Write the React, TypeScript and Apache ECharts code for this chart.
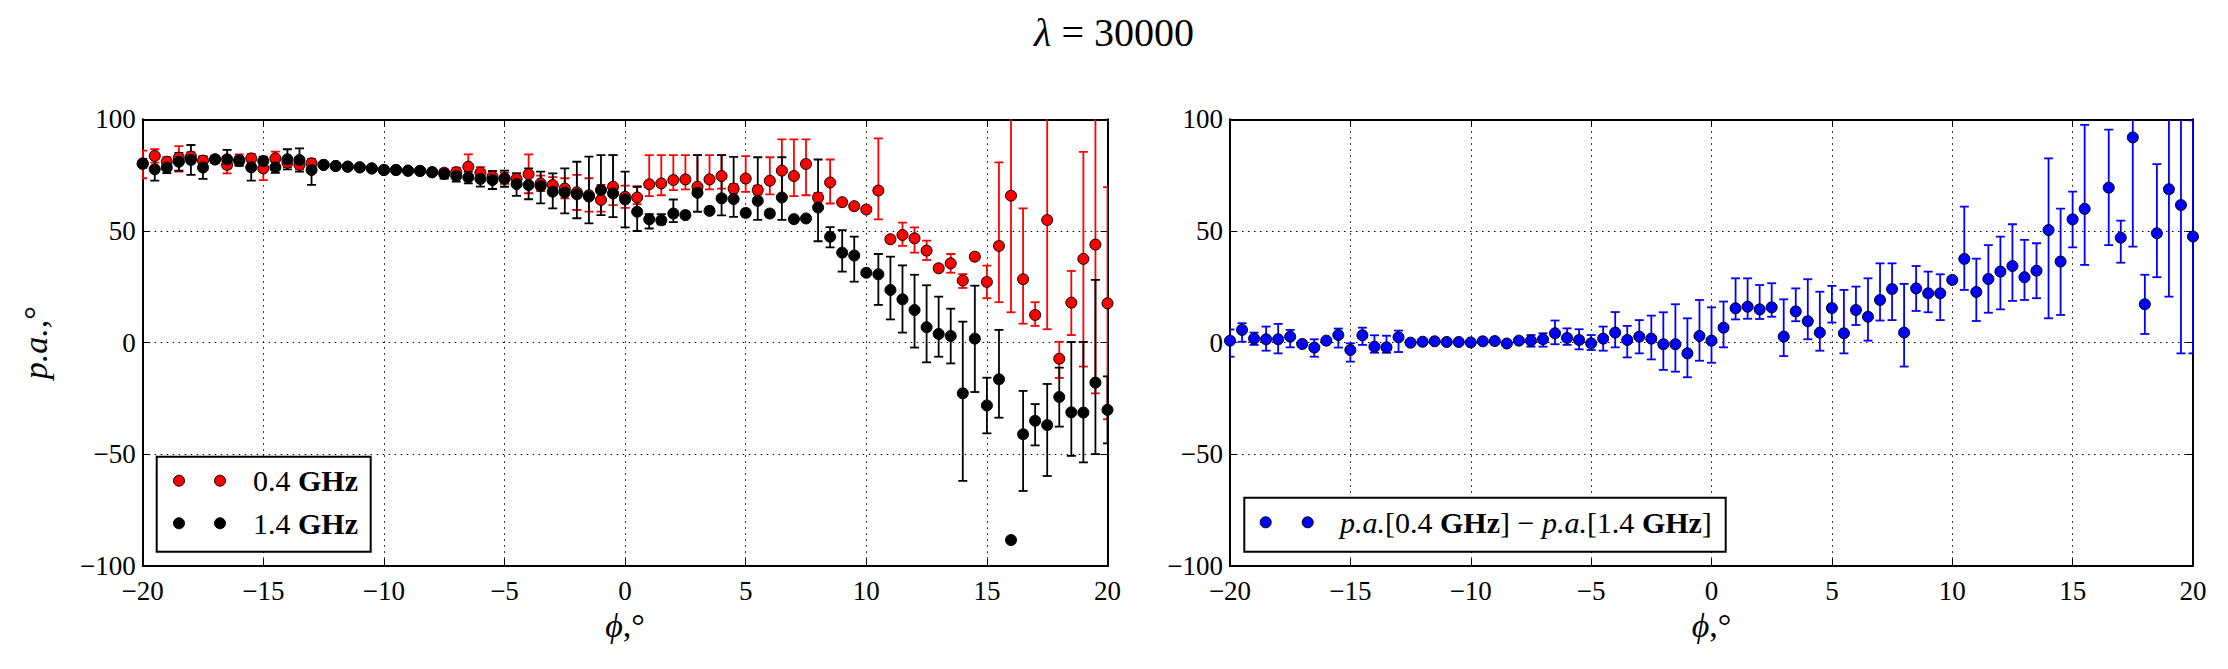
import React, { useEffect, useRef } from "react";
import * as echarts from "echarts";

// Longitude grid (degrees)
const phi = [
  -20, -19.5, -19, -18.5, -18, -17.5, -17, -16.5, -16, -15.5, -15, -14.5, -14, -13.5, -13, -12.5,
  -12, -11.5, -11, -10.5, -10, -9.5, -9, -8.5, -8, -7.5, -7, -6.5, -6, -5.5, -5, -4.5, -4, -3.5,
  -3, -2.5, -2, -1.5, -1, -0.5, 0, 0.5, 1, 1.5, 2, 2.5, 3, 3.5, 4, 4.5, 5, 5.5, 6, 6.5, 7, 7.5,
  8, 8.5, 9, 9.5, 10, 10.5, 11, 11.5, 12, 12.5, 13, 13.5, 14, 14.5, 15, 15.5, 16, 16.5, 17, 17.5,
  18, 18.5, 19, 19.5, 20,
];

// Position angle at 0.4 GHz
const pa04 = [
  80, 83.6, 81, 82.8, 83.3, 81.5, 82, 79.6, 81.8, 82.5, 78, 82.5, 80.6, 79.6, 80.3, 79.6,
  79.1, 78.8, 78.5, 78, 77.3, 77.3, 77, 76.9, 76.3, 76.1, 76.3, 78.8, 76.1, 74.3, 73.6, 73.3, 75.4, 71.3,
  70.6, 69, 67.3, 66, 63.9, 69.8, 65.3, 65, 70.9, 71.3, 72.8, 73.1, 69.8, 73.1, 74.6, 69, 73.5, 68.3, 72.5, 77, 74.6, 80,
  65, 71.7, 62.9, 61.1, 59.6, 68.1, 46.3, 48.2, 46.7, 41.2, 33.3, 35.5, 27.8, 38.5, 27.2, 43.3, 65.8, 28.4, 12.4, 54.9,
  -7.2, 17.9, 37.5, 43.9, 17.6,
];
const pa04ErrUp = [
  6, 3, 2, 5.2, 2, 2, 1.5, 3.7, 2.5, 2, 3.8, 3, 2, 2, 2, 1,
  1, 1, 1, 1, 1, 1, 1, 1, 1, 1.5, 2, 5.5, 2.5, 2.5, 2.5, 2.5, 8.9, 3.5,
  3.5, 4.6, 7.8, 7.6, 6.7, 14.2, 5, 5, 13.1, 12.7, 11.2, 10.9, 14.2, 10.9, 9.4, 2, 10, 2, 10.5, 14, 16.4, 11,
  2, 10.3, 1, 1, 1, 23.4, 1.5, 5.5, 4.9, 4.5, 1.5, 4.2, 2.9, 1.5, 7.3, 37.4, 52, 31.7, 5.7, 49,
  7.6, 14.2, 47.9, 66, 52,
];
const pa04ErrDown = [
  6.4, 3, 2, 6.2, 2, 2, 1.5, 3.8, 2.5, 2, 5.2, 2.9, 2, 2, 2, 1,
  1, 1, 1, 1, 1, 1, 1, 1, 1, 1.5, 2, 5.2, 2.5, 2.5, 2.5, 2.5, 8.5, 3.5,
  3.5, 4.4, 7.9, 7.3, 5.2, 8.2, 5, 3, 5.3, 5.3, 4.5, 4.5, 3.8, 4.5, 5.6, 2, 6, 2, 6.1, 12, 9, 14,
  2, 9.4, 1, 1, 1, 12.9, 1.5, 4.9, 6.4, 4.2, 1.5, 4.2, 3.3, 1.5, 7.3, 25.2, 52.2, 19.9, 4.9, 48.9,
  8.6, 14.5, 48.2, 66.6, 51.9,
];

// Position angle at 1.4 GHz
const pa14 = [
  80.3, 77.6, 78.4, 81, 81.8, 78.4, 82.1, 82.1, 81.3, 78.5, 81.3, 78.5, 82.1, 81.8, 77.3, 79.6,
  79.1, 78.8, 78.5, 78, 77.3, 77.3, 77, 76.9, 76.3, 75.5, 74.6, 74, 73.3, 72.8, 73.4, 71, 70.6, 70.1,
  67.6, 67.2, 66.4, 65.4, 68.3, 66.8, 64.1, 58.6, 55.2, 54.8, 57.8, 57.1, 67.1, 59, 64.6, 64.3, 58.1, 63.5, 57.8, 65, 55.3, 55.6,
  60.5, 47.4, 40.3, 39, 31.3, 30.6, 23.6, 19.4, 14.6, 6.9, 3.9, 3, -22.7, 1.8, -28.1, -16.4, -88.4, -41, -35, -36.9,
  -24.3, -31.2, -31.3, -17.9, -30.1,
];
const pa14ErrUp = [
  2, 4.9, 2.5, 4, 6.7, 4.9, 1.5, 4.2, 2, 4, 2, 2.5, 4.5, 5.2, 4.5, 1,
  1, 1, 1, 1, 1, 1, 1, 1, 1, 2, 2.5, 2.6, 3.4, 4, 3.6, 4.8, 7.4, 6.5,
  8.2, 10.8, 14.6, 17.9, 15.7, 17.2, 12.5, 11.2, 2.3, 2.7, 6.3, 1.5, 16.9, 1.5, 19.4, 18.9, 1.5, 19.5, 1.5, 18, 1, 1,
  21.5, 4.3, 10.1, 8.5, 1, 9.1, 14.9, 15.2, 15.8, 18.8, 16.7, 12.2, 32.1, 23.7, 12.4, 22.1, 0, 19.4, 7.5, 18.4,
  13.1, 31.5, 31.6, 46, 15,
];
const pa14ErrDown = [
  2, 5.1, 2.5, 4, 6.7, 5.1, 1.5, 4.1, 2, 6, 2, 2.5, 4.5, 5.2, 6.7, 1,
  1, 1, 1, 1, 1, 1, 1, 1, 1, 2, 2.5, 2.7, 3.4, 4, 3.6, 5.3, 6.4, 7.7,
  7.5, 9.3, 10.7, 12, 11.2, 10.6, 12.5, 8.6, 4.1, 1.8, 3.8, 1.5, 8.5, 1.5, 7.6, 8, 1.5, 8.5, 1.5, 10, 1, 1,
  15.1, 4.7, 8.5, 11.7, 1, 13.7, 13.2, 14.9, 16.8, 15.7, 10.2, 12.3, 39.2, 23.9, 12.5, 17.2, 0, 25.4, 11, 22.8,
  13.3, 19.5, 22.3, 32, 15,
];

// Difference p.a.[0.4 GHz] - p.a.[1.4 GHz] (null: off scale)
const dpa = [
  0.9, 5.7, 1.8, 1.5, 1.5, 2.7, -0.6, -2.2, 0.9, 3.4, -3.3, 3.3, -1.8, -2.1, 2.4, 0,
  0.4, 0.6, 0.3, 0.3, 0.1, 0.6, 0.7, -0.4, 0.9, 0.9, 1.5, 4.2, 2.1, 1.2, -0.3, 1.8, 4.5, 1.2,
  2.7, 1.8, -0.7, -0.7, -4.8, 3, 0.9, 6.7, 15.4, 16.1, 14.9, 15.8, 2.7, 14, 9.6, 4.5, 15.5, 4.2, 14.6, 11.6, 19.1, 24,
  4.5, 24.3, 22.1, 22.1, 28.1, 37.5, 22.7, 28.5, 31.8, 34.3, 29.3, 32.2, 50.4, 36.3, 55.2, 59.9, null, 69.4, 47, 91.9,
  17.2, 49, 68.7, 61.6, 47.5,
];
const dpaErrUp = [
  5, 3, 2.7, 5.7, 6.9, 3, 1, 3.7, 1, 2.9, 3, 3.4, 5.1, 5.2, 3, 0.5,
  0.5, 0.5, 0.5, 0.5, 0.5, 0.5, 0.5, 0.5, 0.5, 2.5, 2.7, 5.7, 4.3, 4.8, 3.7, 5.4, 9.2, 6.3,
  7.4, 10.3, 14.3, 17.9, 15.7, 16.1, 14.9, 11.7, 13.4, 12.7, 10.9, 10.8, 16.7, 10.3, 18.8, 18.3, 9.9, 19.4, 10.5, 17.2, 16.4, 11.5,
  21.8, 10, 9.7, 8.5, 1, 23.4, 14.9, 15.2, 15.7, 18.7, 16.7, 12.3, 32.1, 23.7, 12.4, 37.6, 0, 26, 7.6, 49,
  13.2, 30.9, 48, 66, 52,
];
const dpaErrDown = [
  7.2, 5.3, 2.8, 5.1, 6.3, 4.8, 1, 4.1, 1, 5.6, 5.2, 4.3, 2.7, 2.4, 6.6, 0.5,
  0.5, 0.5, 0.5, 0.5, 0.5, 0.5, 0.5, 0.5, 0.5, 2.7, 3.3, 4.9, 3.1, 4.2, 3, 5.4, 6.6, 7.8,
  7.5, 9.3, 11.5, 12.3, 10.7, 11.1, 9.9, 8.8, 5, 5.4, 4.3, 4.2, 8.7, 4.4, 8.1, 8.1, 6.5, 9, 6.7, 10.7, 9.2, 13.9,
  15.2, 10.1, 8.5, 12, 1, 13.9, 13, 15.1, 16.9, 15.6, 10.2, 12.3, 39.5, 23.9, 12.5, 25.1, 0, 25.7, 11.2, 48.9,
  13.3, 19.7, 48.1, 66.4, 52.3,
];

const xTicks = { min: -20, max: 20, interval: 5 };
const yTicks = { min: -100, max: 100, interval: 50 };

const FONT = "'Liberation Serif', 'DejaVu Serif', serif";
const RED = "#ff0000";
const BLACK = "#000000";
const BLUE = "#0000ff";

const minus = (v: number) => String(v).replace("-", "\u2212");

function points(vals: (number | null)[]) {
  const out: number[][] = [];
  phi.forEach((x, i) => {
    const v = vals[i];
    if (v != null) out.push([x, v]);
  });
  return out;
}

function bars(vals: (number | null)[], up: number[], down: number[]) {
  const out: number[][] = [];
  phi.forEach((x, i) => {
    const v = vals[i];
    if (v != null && up[i] + down[i] > 0) out.push([x, v - down[i], v + up[i]]);
  });
  return out;
}

// Vertical error bar with caps at both ends
const errorBarItem = (color: string) => (_params: any, api: any) => {
  const x = api.value(0);
  const lo = api.coord([x, api.value(1)]);
  const hi = api.coord([x, api.value(2)]);
  const cap = 4.5;
  const style = { stroke: color, lineWidth: 1.8 };
  return {
    type: "group",
    children: [
      { type: "line", shape: { x1: lo[0], y1: lo[1], x2: hi[0], y2: hi[1] }, style },
      { type: "line", shape: { x1: lo[0] - cap, y1: lo[1], x2: lo[0] + cap, y2: lo[1] }, style },
      { type: "line", shape: { x1: hi[0] - cap, y1: hi[1], x2: hi[0] + cap, y2: hi[1] }, style },
    ],
  };
};

function errorSeries(idx: number, color: string, data: number[][]) {
  return {
    type: "custom",
    xAxisIndex: idx,
    yAxisIndex: idx,
    clip: true,
    silent: true,
    renderItem: errorBarItem(color),
    encode: { x: 0, y: [1, 2] },
    data,
  };
}

function markerSeries(idx: number, color: string, data: number[][]) {
  return {
    type: "scatter",
    xAxisIndex: idx,
    yAxisIndex: idx,
    clip: true,
    silent: true,
    symbol: "circle",
    symbolSize: 11,
    itemStyle: { color, borderColor: "#000", borderWidth: 1, opacity: 1 },
    data,
  };
}

const tickStyle = { inside: true, length: 7, lineStyle: { color: "#000", width: 1 } };
const frameLine = { show: true, onZero: false, lineStyle: { color: "#000", width: 2 } };
const nameRich = {
  i: { fontSize: 34, fontFamily: FONT, fontStyle: "italic", color: "#000" },
  n: { fontSize: 34, fontFamily: FONT, color: "#000" },
};

function mainX(grid: number, withName: boolean) {
  return {
    type: "value",
    gridIndex: grid,
    position: "bottom",
    ...xTicks,
    axisLine: frameLine,
    axisTick: tickStyle,
    axisLabel: { fontSize: 27, fontFamily: FONT, color: "#000", margin: 11, formatter: minus },
    splitLine: { show: true, lineStyle: { color: "#000", width: 1, type: [1.5, 4.5] } },
    name: withName ? "{i|\u03d5}{n|,\u00b0}" : "",
    nameLocation: "middle",
    nameGap: 42,
    nameTextStyle: { fontSize: 34, fontFamily: FONT, color: "#000", rich: nameRich },
  };
}

function topX(grid: number) {
  return {
    type: "value",
    gridIndex: grid,
    position: "top",
    ...xTicks,
    axisLine: frameLine,
    axisTick: tickStyle,
    axisLabel: { show: false },
    splitLine: { show: false },
  };
}

function mainY(grid: number, withName: boolean) {
  return {
    type: "value",
    gridIndex: grid,
    position: "left",
    ...yTicks,
    axisLine: frameLine,
    axisTick: tickStyle,
    axisLabel: { fontSize: 27, fontFamily: FONT, color: "#000", margin: 7, formatter: minus },
    splitLine: { show: true, lineStyle: { color: "#000", width: 1, type: [1.5, 4.5] } },
    name: withName ? "{i|p.a.,}{n|\u00b0}" : "",
    nameLocation: "middle",
    nameRotate: 90,
    nameGap: 90,
    nameTextStyle: { fontSize: 34, fontFamily: FONT, color: "#000", rich: nameRich },
  };
}

function rightY(grid: number) {
  return {
    type: "value",
    gridIndex: grid,
    position: "right",
    ...yTicks,
    axisLine: frameLine,
    axisTick: tickStyle,
    axisLabel: { show: false },
    splitLine: { show: false },
  };
}

const LEGEND_SIZE = 30;
const legendText = { fontSize: LEGEND_SIZE, fontFamily: FONT, fill: "#000", verticalAlign: "middle" };
const legendRich = {
  n: { fontSize: LEGEND_SIZE, fontFamily: FONT, fill: "#000", color: "#000" },
  b: { fontSize: LEGEND_SIZE, fontFamily: FONT, fontWeight: "bold", fill: "#000", color: "#000" },
  i: { fontSize: LEGEND_SIZE, fontFamily: FONT, fontStyle: "italic", fill: "#000", color: "#000" },
};

function legendDots(y: number, x1: number, x2: number, color: string) {
  return [x1, x2].map((cx) => ({
    type: "circle",
    z: 101,
    shape: { cx, cy: y, r: 5.5 },
    style: { fill: color, stroke: "#000", lineWidth: 1 },
  }));
}

export default function App() {
  const ref = useRef<HTMLDivElement>(null);

  useEffect(() => {
    if (!ref.current) return;
    const chart = echarts.init(ref.current, null, { renderer: "svg" });
    chart.setOption({
      animation: false,
      backgroundColor: "#fff",
      textStyle: { fontFamily: FONT },
      title: {
        text: "{i|\u03bb}{n| = 30000}",
        left: "center",
        top: 12,
        padding: 0,
        textStyle: {
          fontSize: 40,
          fontWeight: "normal",
          fontFamily: FONT,
          color: "#000",
          rich: {
            i: { fontSize: 40, fontFamily: FONT, fontStyle: "italic", color: "#000" },
            n: { fontSize: 40, fontFamily: FONT, color: "#000" },
          },
        },
      },
      grid: [
        { left: 142.7, top: 119.3, width: 964.8, height: 446.7 },
        { left: 1230, top: 119.3, width: 963, height: 446.7 },
      ],
      xAxis: [mainX(0, true), topX(0), mainX(1, true), topX(1)],
      yAxis: [mainY(0, true), rightY(0), mainY(1, false), rightY(1)],
      series: [
        errorSeries(0, RED, bars(pa04, pa04ErrUp, pa04ErrDown)),
        markerSeries(0, RED, points(pa04)),
        errorSeries(0, BLACK, bars(pa14, pa14ErrUp, pa14ErrDown)),
        markerSeries(0, BLACK, points(pa14)),
        errorSeries(2, BLUE, bars(dpa, dpaErrUp, dpaErrDown)),
        markerSeries(2, BLUE, points(dpa)),
      ],
      graphic: [
        {
          type: "rect",
          z: 100,
          shape: { x: 156.7, y: 456.7, width: 214, height: 95 },
          style: { fill: "#fff", stroke: "#000", lineWidth: 2 },
        },
        ...legendDots(480.7, 179, 220, RED),
        ...legendDots(523.3, 179, 220, BLACK),
        {
          type: "text",
          z: 101,
          x: 253,
          y: 480.7,
          style: { ...legendText, text: "{n|0.4 }{b|GHz}", rich: legendRich },
        },
        {
          type: "text",
          z: 101,
          x: 253,
          y: 523.3,
          style: { ...legendText, text: "{n|1.4 }{b|GHz}", rich: legendRich },
        },
        {
          type: "rect",
          z: 100,
          shape: { x: 1244.3, y: 497.7, width: 481.4, height: 54 },
          style: { fill: "#fff", stroke: "#000", lineWidth: 2 },
        },
        ...legendDots(522.3, 1265.7, 1307.7, BLUE),
        {
          type: "text",
          z: 101,
          x: 1340,
          y: 522.3,
          style: {
            ...legendText,
            text: "{i|p.a.}{n|[0.4 }{b|GHz}{n|] \u2212 }{i|p.a.}{n|[1.4 }{b|GHz}{n|]}",
            rich: legendRich,
          },
        },
      ],
    });
    return () => chart.dispose();
  }, []);

  return (
    <div
      ref={ref}
      style={{ position: "fixed", left: 0, top: 0, width: 2228, height: 669, background: "#fff" }}
    />
  );
}
